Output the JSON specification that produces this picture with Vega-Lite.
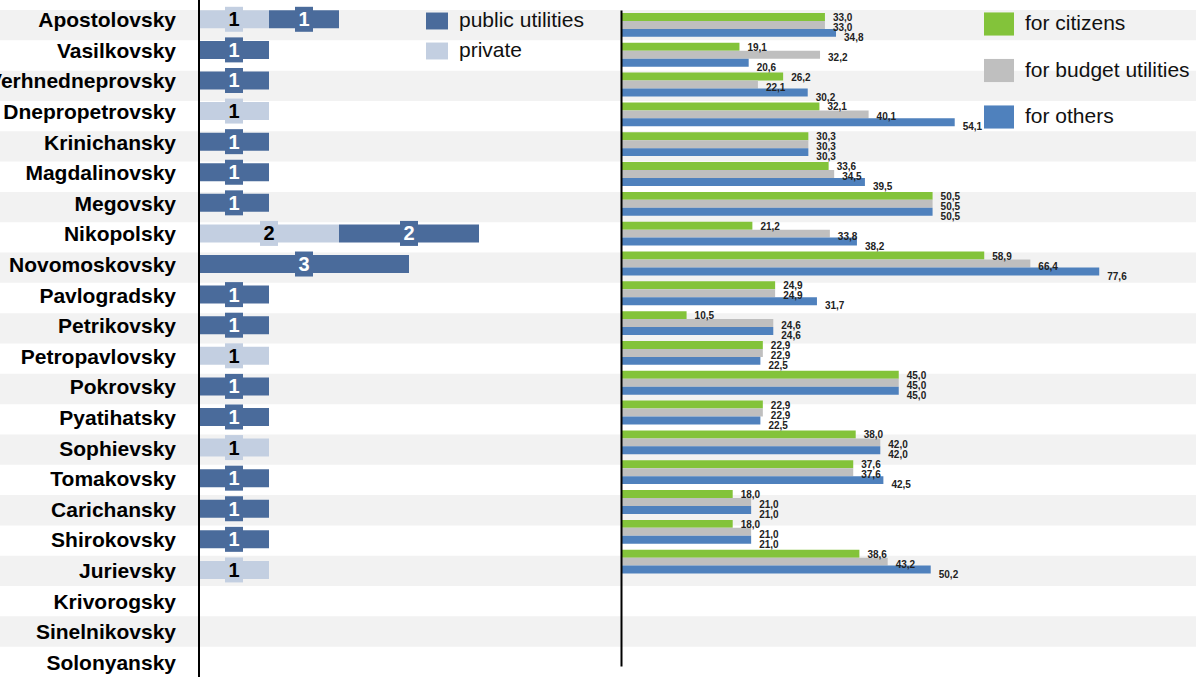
{
  "$schema": "https://vega.github.io/schema/vega-lite/v6.json",
  "width": 1196,
  "height": 677,
  "autosize": {"type": "none"},
  "padding": 0,
  "background": "white",
  "config": {
    "view": {"stroke": null},
    "font": "Liberation Sans",
    "locale": {"number": {"decimal": ",", "thousands": " ", "grouping": [3], "currency": ["", ""]}}
  },
  "datasets": {
    "districts": [
      {"district": "Apostolovsky"}, {"district": "Vasilkovsky"}, {"district": "Verhnedneprovsky"},
      {"district": "Dnepropetrovsky"}, {"district": "Krinichansky"}, {"district": "Magdalinovsky"},
      {"district": "Megovsky"}, {"district": "Nikopolsky"}, {"district": "Novomoskovsky"},
      {"district": "Pavlogradsky"}, {"district": "Petrikovsky"}, {"district": "Petropavlovsky"},
      {"district": "Pokrovsky"}, {"district": "Pyatihatsky"}, {"district": "Sophievsky"},
      {"district": "Tomakovsky"}, {"district": "Carichansky"}, {"district": "Shirokovsky"},
      {"district": "Jurievsky"}, {"district": "Krivorogsky"}, {"district": "Sinelnikovsky"},
      {"district": "Solonyansky"}
    ],
    "plants": [
      {"district": "Apostolovsky", "type": "private", "count": 1},
      {"district": "Apostolovsky", "type": "public utilities", "count": 1},
      {"district": "Vasilkovsky", "type": "public utilities", "count": 1},
      {"district": "Verhnedneprovsky", "type": "public utilities", "count": 1},
      {"district": "Dnepropetrovsky", "type": "private", "count": 1},
      {"district": "Krinichansky", "type": "public utilities", "count": 1},
      {"district": "Magdalinovsky", "type": "public utilities", "count": 1},
      {"district": "Megovsky", "type": "public utilities", "count": 1},
      {"district": "Nikopolsky", "type": "private", "count": 2},
      {"district": "Nikopolsky", "type": "public utilities", "count": 2},
      {"district": "Novomoskovsky", "type": "public utilities", "count": 3},
      {"district": "Pavlogradsky", "type": "public utilities", "count": 1},
      {"district": "Petrikovsky", "type": "public utilities", "count": 1},
      {"district": "Petropavlovsky", "type": "private", "count": 1},
      {"district": "Pokrovsky", "type": "public utilities", "count": 1},
      {"district": "Pyatihatsky", "type": "public utilities", "count": 1},
      {"district": "Sophievsky", "type": "private", "count": 1},
      {"district": "Tomakovsky", "type": "public utilities", "count": 1},
      {"district": "Carichansky", "type": "public utilities", "count": 1},
      {"district": "Shirokovsky", "type": "public utilities", "count": 1},
      {"district": "Jurievsky", "type": "private", "count": 1}
    ],
    "tariffs": [
      {"district": "Apostolovsky", "category": "for citizens", "value": 33.0},
      {"district": "Apostolovsky", "category": "for budget utilities", "value": 33.0},
      {"district": "Apostolovsky", "category": "for others", "value": 34.8},
      {"district": "Vasilkovsky", "category": "for citizens", "value": 19.1},
      {"district": "Vasilkovsky", "category": "for budget utilities", "value": 32.2},
      {"district": "Vasilkovsky", "category": "for others", "value": 20.6},
      {"district": "Verhnedneprovsky", "category": "for citizens", "value": 26.2},
      {"district": "Verhnedneprovsky", "category": "for budget utilities", "value": 22.1},
      {"district": "Verhnedneprovsky", "category": "for others", "value": 30.2},
      {"district": "Dnepropetrovsky", "category": "for citizens", "value": 32.1},
      {"district": "Dnepropetrovsky", "category": "for budget utilities", "value": 40.1},
      {"district": "Dnepropetrovsky", "category": "for others", "value": 54.1},
      {"district": "Krinichansky", "category": "for citizens", "value": 30.3},
      {"district": "Krinichansky", "category": "for budget utilities", "value": 30.3},
      {"district": "Krinichansky", "category": "for others", "value": 30.3},
      {"district": "Magdalinovsky", "category": "for citizens", "value": 33.6},
      {"district": "Magdalinovsky", "category": "for budget utilities", "value": 34.5},
      {"district": "Magdalinovsky", "category": "for others", "value": 39.5},
      {"district": "Megovsky", "category": "for citizens", "value": 50.5},
      {"district": "Megovsky", "category": "for budget utilities", "value": 50.5},
      {"district": "Megovsky", "category": "for others", "value": 50.5},
      {"district": "Nikopolsky", "category": "for citizens", "value": 21.2},
      {"district": "Nikopolsky", "category": "for budget utilities", "value": 33.8},
      {"district": "Nikopolsky", "category": "for others", "value": 38.2},
      {"district": "Novomoskovsky", "category": "for citizens", "value": 58.9},
      {"district": "Novomoskovsky", "category": "for budget utilities", "value": 66.4},
      {"district": "Novomoskovsky", "category": "for others", "value": 77.6},
      {"district": "Pavlogradsky", "category": "for citizens", "value": 24.9},
      {"district": "Pavlogradsky", "category": "for budget utilities", "value": 24.9},
      {"district": "Pavlogradsky", "category": "for others", "value": 31.7},
      {"district": "Petrikovsky", "category": "for citizens", "value": 10.5},
      {"district": "Petrikovsky", "category": "for budget utilities", "value": 24.6},
      {"district": "Petrikovsky", "category": "for others", "value": 24.6},
      {"district": "Petropavlovsky", "category": "for citizens", "value": 22.9},
      {"district": "Petropavlovsky", "category": "for budget utilities", "value": 22.9},
      {"district": "Petropavlovsky", "category": "for others", "value": 22.5},
      {"district": "Pokrovsky", "category": "for citizens", "value": 45.0},
      {"district": "Pokrovsky", "category": "for budget utilities", "value": 45.0},
      {"district": "Pokrovsky", "category": "for others", "value": 45.0},
      {"district": "Pyatihatsky", "category": "for citizens", "value": 22.9},
      {"district": "Pyatihatsky", "category": "for budget utilities", "value": 22.9},
      {"district": "Pyatihatsky", "category": "for others", "value": 22.5},
      {"district": "Sophievsky", "category": "for citizens", "value": 38.0},
      {"district": "Sophievsky", "category": "for budget utilities", "value": 42.0},
      {"district": "Sophievsky", "category": "for others", "value": 42.0},
      {"district": "Tomakovsky", "category": "for citizens", "value": 37.6},
      {"district": "Tomakovsky", "category": "for budget utilities", "value": 37.6},
      {"district": "Tomakovsky", "category": "for others", "value": 42.5},
      {"district": "Carichansky", "category": "for citizens", "value": 18.0},
      {"district": "Carichansky", "category": "for budget utilities", "value": 21.0},
      {"district": "Carichansky", "category": "for others", "value": 21.0},
      {"district": "Shirokovsky", "category": "for citizens", "value": 18.0},
      {"district": "Shirokovsky", "category": "for budget utilities", "value": 21.0},
      {"district": "Shirokovsky", "category": "for others", "value": 21.0},
      {"district": "Jurievsky", "category": "for citizens", "value": 38.6},
      {"district": "Jurievsky", "category": "for budget utilities", "value": 43.2},
      {"district": "Jurievsky", "category": "for others", "value": 50.2}
    ]
  },
  "resolve": {"scale": {"x": "independent", "y": "independent", "color": "independent"}},
  "layer": [
    {
      "data": {"name": "districts"},
      "transform": [
        {"window": [{"op": "row_number", "as": "i"}]},
        {"filter": "datum.i % 2 == 1"}
      ],
      "mark": {"type": "bar", "color": "#f2f2f2"},
      "encoding": {
        "y": {
          "field": "district", "type": "nominal",
          "scale": {
            "domain": ["Apostolovsky", "Vasilkovsky", "Verhnedneprovsky", "Dnepropetrovsky", "Krinichansky", "Magdalinovsky", "Megovsky", "Nikopolsky", "Novomoskovsky", "Pavlogradsky", "Petrikovsky", "Petropavlovsky", "Pokrovsky", "Pyatihatsky", "Sophievsky", "Tomakovsky", "Carichansky", "Shirokovsky", "Jurievsky", "Krivorogsky", "Sinelnikovsky", "Solonyansky"],
            "range": [10, 677], "paddingInner": 0, "paddingOuter": 0
          },
          "axis": null
        }
      }
    },
    {
      "layer": [
        {
          "data": {"name": "plants"},
          "transform": [{"stack": "count", "groupby": ["district"], "sort": [{"field": "type", "order": "ascending"}], "as": ["x0", "x1"]}],
          "mark": {"type": "bar", "height": 18},
          "encoding": {
            "y": {
              "field": "district", "type": "nominal",
              "scale": {
                "domain": ["Apostolovsky", "Vasilkovsky", "Verhnedneprovsky", "Dnepropetrovsky", "Krinichansky", "Magdalinovsky", "Megovsky", "Nikopolsky", "Novomoskovsky", "Pavlogradsky", "Petrikovsky", "Petropavlovsky", "Pokrovsky", "Pyatihatsky", "Sophievsky", "Tomakovsky", "Carichansky", "Shirokovsky", "Jurievsky", "Krivorogsky", "Sinelnikovsky", "Solonyansky"],
                "range": [4, 677], "paddingInner": 0, "paddingOuter": 0
              },
              "axis": null
            },
            "x": {"field": "x0", "type": "quantitative", "scale": {"domain": [0, 10], "range": [199, 899]}, "axis": null},
            "x2": {"field": "x1"},
            "color": {
              "field": "type", "type": "nominal",
              "scale": {"domain": ["public utilities", "private"], "range": ["#4a6b9b", "#c3cfe1"]},
              "legend": {
                "orient": "none", "legendX": 426, "legendY": 10, "title": null,
                "symbolType": "M-1,-0.77H1V0.77H-1Z", "symbolSize": 484, "symbolStrokeWidth": 0,
                "labelFontSize": 21, "labelFont": "Liberation Sans", "labelColor": "#111",
                "labelOffset": 11, "rowPadding": 9, "padding": 0, "labelLimit": 400
              }
            }
          }
        },
        {
          "data": {"name": "plants"},
          "transform": [
            {"stack": "count", "groupby": ["district"], "sort": [{"field": "type", "order": "ascending"}], "as": ["x0", "x1"]},
            {"fold": ["x0", "x1"], "as": ["edge", "pos"]},
            {"aggregate": [{"op": "mean", "field": "pos", "as": "mid"}, {"op": "max", "field": "count", "as": "count"}], "groupby": ["district", "type"]}
          ],
          "mark": {"type": "point", "shape": "M-0.72,-1H0.72V1H-0.72Z", "size": 625, "filled": true, "opacity": 1},
          "encoding": {
            "y": {"field": "district", "type": "nominal"},
            "x": {"field": "mid", "type": "quantitative"},
            "color": {"field": "type", "type": "nominal"}
          }
        },
        {
          "data": {"name": "plants"},
          "transform": [
            {"stack": "count", "groupby": ["district"], "sort": [{"field": "type", "order": "ascending"}], "as": ["x0", "x1"]},
            {"fold": ["x0", "x1"], "as": ["edge", "pos"]},
            {"aggregate": [{"op": "mean", "field": "pos", "as": "mid"}, {"op": "max", "field": "count", "as": "count"}], "groupby": ["district", "type"]}
          ],
          "mark": {"type": "text", "font": "Liberation Sans", "fontWeight": "bold", "fontSize": 20, "dy": 1},
          "encoding": {
            "y": {"field": "district", "type": "nominal"},
            "x": {"field": "mid", "type": "quantitative"},
            "text": {"field": "count", "type": "quantitative"},
            "color": {"condition": {"test": "datum.type === 'private'", "value": "#000000"}, "value": "#ffffff"}
          }
        },
        {
          "data": {"values": [{"line": "axis"}]},
          "mark": {"type": "rule", "color": "#000000", "strokeWidth": 2},
          "encoding": {"x": {"datum": 0}}
        },
        {
          "data": {"name": "districts"},
          "mark": {"type": "text", "align": "right", "dx": -23, "dy": 2, "fontSize": 21, "fontWeight": "bold", "font": "Liberation Sans", "color": "#000000"},
          "encoding": {
            "y": {"field": "district", "type": "nominal"},
            "x": {"datum": 0},
            "text": {"field": "district", "type": "nominal"}
          }
        }
      ]
    },
    {
      "data": {"name": "tariffs"},
      "resolve": {"scale": {"yOffset": "independent"}},
      "encoding": {
        "y": {
          "field": "district", "type": "nominal",
          "scale": {
            "domain": ["Apostolovsky", "Vasilkovsky", "Verhnedneprovsky", "Dnepropetrovsky", "Krinichansky", "Magdalinovsky", "Megovsky", "Nikopolsky", "Novomoskovsky", "Pavlogradsky", "Petrikovsky", "Petropavlovsky", "Pokrovsky", "Pyatihatsky", "Sophievsky", "Tomakovsky", "Carichansky", "Shirokovsky", "Jurievsky", "Krivorogsky", "Sinelnikovsky", "Solonyansky"],
            "range": [10, 666], "paddingInner": 0.2, "paddingOuter": 0.1
          },
          "axis": {"orient": "left", "offset": -621, "labels": false, "ticks": false, "title": null, "domainColor": "#000000", "domainWidth": 2, "grid": false, "zindex": 1}
        },
        "x": {"field": "value", "type": "quantitative", "scale": {"domain": [0, 80], "range": [622, 1114]}, "axis": null}
      },
      "layer": [
        {
          "mark": {"type": "bar"},
          "encoding": {
            "yOffset": {"field": "category", "type": "nominal", "scale": {"domain": ["for citizens", "for budget utilities", "for others"], "paddingInner": 0, "paddingOuter": 0}},
            "color": {
              "field": "category", "type": "nominal",
              "scale": {"domain": ["for citizens", "for budget utilities", "for others"], "range": ["#83c33a", "#bfbfbf", "#4f81bd"]},
              "legend": {
                "orient": "none", "legendX": 984, "legendY": 9, "title": null,
                "symbolType": "M-1,-0.77H1V0.77H-1Z", "symbolSize": 900, "symbolStrokeWidth": 0,
                "labelFontSize": 21, "labelFont": "Liberation Sans", "labelColor": "#111",
                "labelOffset": 11, "rowPadding": 19.5, "padding": 0, "labelLimit": 400
              }
            }
          }
        },
        {
          "mark": {"type": "text", "align": "left", "dx": 8, "fontSize": 10, "fontWeight": "bold", "font": "Liberation Sans", "color": "#222222"},
          "encoding": {
            "yOffset": {"field": "category", "type": "nominal", "scale": {"domain": ["for citizens", "for budget utilities", "for others"], "range": [5, 25], "padding": 0}},
            "text": {"field": "value", "type": "quantitative", "format": ".1f"}
          }
        }
      ]
    }
  ]
}
